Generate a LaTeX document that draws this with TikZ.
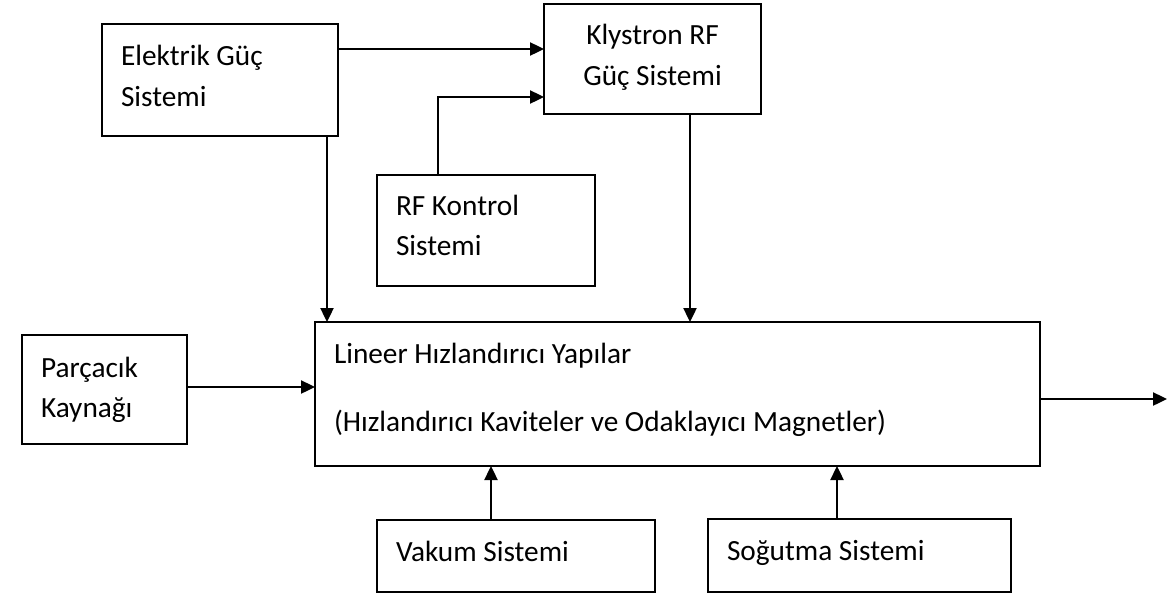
\documentclass[tikz,border=0pt]{standalone}
\usepackage{fontspec}
\setmainfont{Carlito}
\usetikzlibrary{arrows.meta}
\tikzset{
  box/.style={draw=black, line width=2pt, rectangle, inner sep=0pt, outer sep=0pt},
  txt/.style={inner sep=0pt, outer sep=0pt, font=\fontsize{29.3}{36}\selectfont},
  arr/.style={line width=2.4pt, -{Triangle[length=14pt,width=13pt]}}
}
\begin{document}
\begin{tikzpicture}[x=1pt,y=-1pt]
\fill[white] (0,0) rectangle (1168,600);
\useasboundingbox (0,0) rectangle (1168,600);
% boxes
\node[box, minimum width=236pt, minimum height=112pt] (elek) at (220,80) {};
\node[box, minimum width=217pt, minimum height=110pt] (kly) at (652.5,59) {};
\node[box, minimum width=218pt, minimum height=111pt] (rfk) at (486,230.5) {};
\node[box, minimum width=725pt, minimum height=144pt] (main) at (677.5,394) {};
\node[box, minimum width=165pt, minimum height=109pt] (parc) at (104.5,389.5) {};
\node[box, minimum width=278pt, minimum height=72pt] (vak) at (516,556) {};
\node[box, minimum width=303pt, minimum height=73pt] (sog) at (859.5,555.5) {};
% texts
\node[txt, anchor=base west] (elekA) at (121,65) {Elektrik Güç};
\node[txt, anchor=base west] (elekB) at (121,106) {Sistemi};
\node[txt, anchor=base] (klyA) at (652.5,44) {Klystron RF};
\node[txt, anchor=base] (klyB) at (652.5,85) {Güç Sistemi};
\node[txt, anchor=base west] (rfkA) at (396,215) {RF Kontrol};
\node[txt, anchor=base west] (rfkB) at (396,255) {Sistemi};
\node[txt, anchor=base west] (mainA) at (334,363) {Lineer Hızlandırıcı Yapılar};
\node[txt, anchor=base west] (mainB) at (334,431) {(Hızlandırıcı Kaviteler ve Odaklayıcı Magnetler)};
\node[txt, anchor=base west] (parcA) at (41,377) {Parçacık};
\node[txt, anchor=base west] (parcB) at (41,417) {Kaynağı};
\node[txt, anchor=base west] (vakA) at (396,561) {Vakum Sistemi};
\node[txt, anchor=base west] (sogA) at (727,560) {Soğutma Sistemi};
% connector anchors
\coordinate (e1) at ([yshift=-25pt]elek.north east);
\coordinate (e2) at ([xshift=225pt]elek.south west);
\coordinate (r1) at ([xshift=61pt]rfk.north west);
\coordinate (k2) at ([yshift=17pt]kly.south west);
\coordinate (k3) at ([xshift=146pt]kly.south west);
\coordinate (p1) at ([yshift=-52pt]parc.north east);
\coordinate (v1) at ([xshift=114pt]vak.north west);
\coordinate (s1) at ([xshift=129pt]sog.north west);
\coordinate (o1) at ([yshift=-77pt]main.north east);
\coordinate (out) at (1167,399);
% connectors
\draw[arr] (e1) -- (e1 -| kly.west);
\draw[arr] (r1) |- (k2);
\draw[arr] (e2) -- (e2 |- main.north);
\draw[arr] (k3) -- (k3 |- main.north);
\draw[arr] (p1) -- (p1 -| main.west);
\draw[arr] (v1) -- (v1 |- main.south);
\draw[arr] (s1) -- (s1 |- main.south);
\draw[arr] (o1) -- (o1 -| out);
\end{tikzpicture}
\end{document}
